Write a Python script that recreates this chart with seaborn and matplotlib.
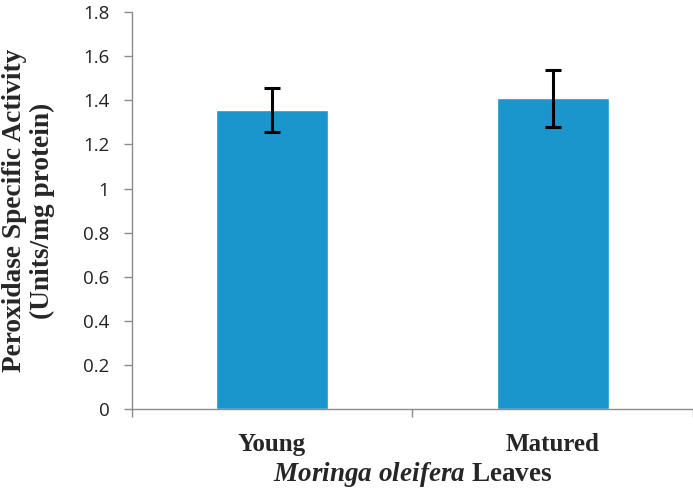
import matplotlib
matplotlib.use("Agg")
import matplotlib.pyplot as plt
import seaborn as sns
import numpy as np
from matplotlib.ticker import FixedLocator

categories = ["Young", "Matured"]
values = [1.355, 1.408]
errors = [0.10, 0.128]
yticks = [0, 0.2, 0.4, 0.6, 0.8, 1, 1.2, 1.4, 1.6, 1.8]
ytick_labels = ["0", "0.2", "0.4", "0.6", "0.8", "1", "1.2", "1.4", "1.6", "1.8"]

sns.set_style("white")
plt.rcParams['mathtext.fontset'] = 'custom'
plt.rcParams['mathtext.it'] = 'Liberation Serif:italic:bold'
plt.rcParams['mathtext.rm'] = 'Liberation Serif:bold'

fig = plt.figure(figsize=(6.93, 4.90), dpi=100)
ax = fig.add_axes([0.19, 0.165, 0.81, 0.8105])

sns.barplot(x=categories, y=values, width=0.4, color="#1b96cc", saturation=1,
            errorbar=None, ax=ax)
ax.errorbar(x=np.arange(len(categories)), y=values, yerr=errors, fmt="none",
            ecolor="black", elinewidth=2.2, capsize=5.5, capthick=2.2)

ax.set_xlim(-0.5, 1.5)
ax.set_ylim(0, 1.8)
ax.set_yticks(yticks)
ax.set_yticklabels(ytick_labels, fontsize=13.5, family="Open Sans", color="#222222")
ax.set_xticks([0, 1])
ax.set_xticklabels(categories, fontsize=18, family="Liberation Serif", fontweight="bold")
ax.xaxis.set_minor_locator(FixedLocator([-0.5, 0.5, 1.5]))
ax.tick_params(axis="x", which="major", length=0, pad=17)
ax.tick_params(axis="x", which="minor", length=6, color="#8c8c8c", width=1, direction="out", bottom=True)
ax.tick_params(axis="y", which="major", length=6, color="#8c8c8c", width=1, direction="out", left=True, pad=10)

for s in ["top", "right"]:
    ax.spines[s].set_visible(False)
for s in ["left", "bottom"]:
    ax.spines[s].set_color("#8c8c8c")
    ax.spines[s].set_linewidth(1)

ax.set_ylabel("Peroxidase Specific Activity\n(Units/mg protein)", fontsize=19.7,
              family="Liberation Serif", fontweight="bold", linespacing=1.12)
ax.yaxis.set_label_coords(-0.137, 0.5)
ax.set_xlabel(r"$\it{Moringa\ oleifera}$ Leaves", fontsize=19.5,
              family="Liberation Serif", fontweight="bold", labelpad=3)

fig.savefig("out.png", dpi=100)
